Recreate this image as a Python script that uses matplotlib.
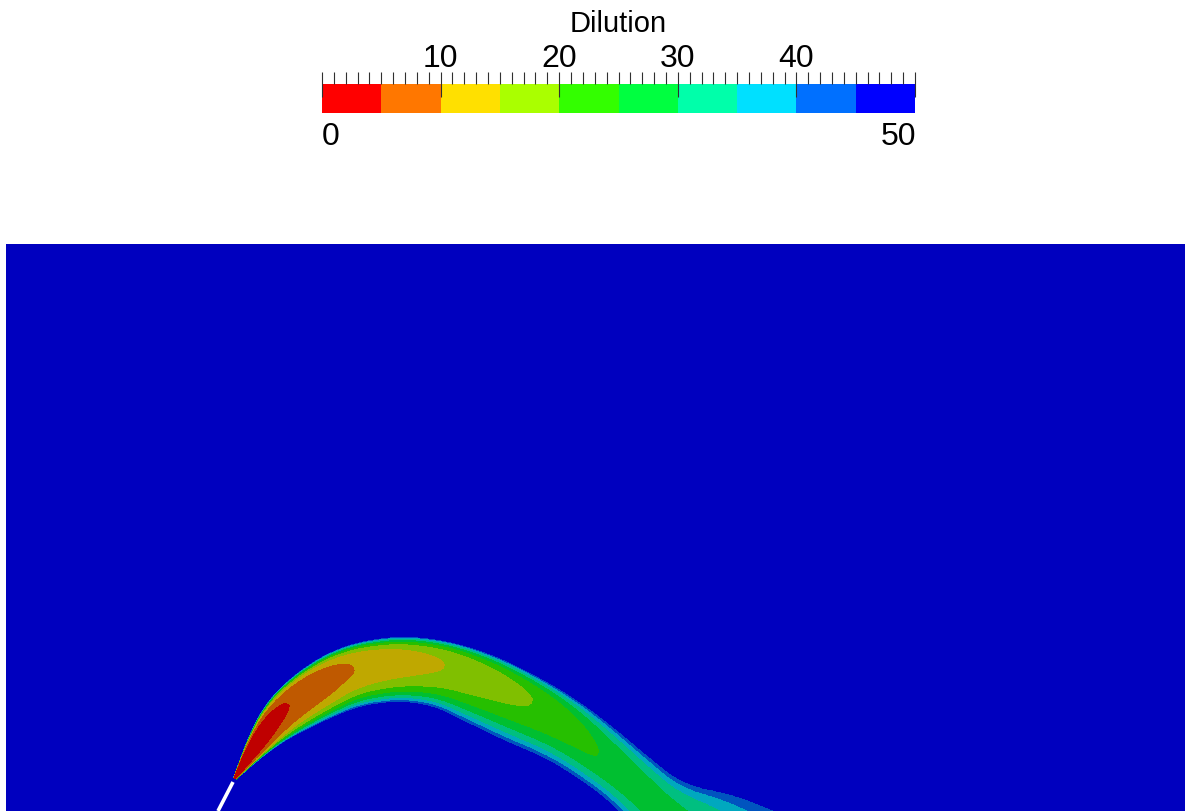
import numpy as np
import matplotlib
matplotlib.use('Agg')
import matplotlib.pyplot as plt
from matplotlib.colors import ListedColormap, BoundaryNorm, to_rgb

# ---------------- data ----------------
levels = [0, 5, 10, 15, 20, 25, 30, 35, 40, 45, 50]
bin_colors = ['#FF0000', '#FF7700', '#FFE000', '#AAFF00', '#33FF00',
              '#00FF40', '#00FFAA', '#00E0FF', '#0070FF', '#0000FF']
major_ticks = [0, 10, 20, 30, 40, 50]
top_labels = ['', '10', '20', '30', '40', '']
title = 'Dilution'

# plume centreline (image pixel coordinates), centreline dilution,
# half-widths (to the 45 contour) on upper / lower side, profile exponents
cl_x = [234, 256, 280, 315, 352, 400, 445, 490, 533, 565, 595, 628, 660, 690, 720]
cl_y = [780, 742, 712, 687, 670, 664, 667, 683, 705, 728, 755, 783, 812, 840, 868]
cl_dil = [0.5, 1.5, 4.5, 6.5, 10.0, 12.5, 15.0, 17.5, 20.0, 22.5, 25.0, 26.5, 27.5, 28.5, 29.5]
w_up = [2, 10, 18, 23, 26, 28, 26, 27, 27, 30, 33, 33, 36, 62, 78]
w_lo = [3, 18, 30, 36, 38, 38, 42, 47, 46, 38, 30, 27, 32, 38, 40]
p_up = [3.0, 3.0, 3.2, 3.3, 3.3, 3.3, 3.3, 3.3, 3.2, 3.0, 2.8, 2.6, 2.3, 2.0, 2.0]
p_lo = [2.0, 2.0, 2.0, 2.0, 2.0, 2.0, 2.0, 2.0, 2.0, 2.0, 2.0, 2.0, 2.0, 2.0, 2.0]

nozzle_x = [218, 233]
nozzle_y = [812, 783]

# ---------------- figure ----------------
W, H, DPI = 1187, 812, 100
fig = plt.figure(figsize=(W / DPI, H / DPI), dpi=DPI)
fig.patch.set_facecolor('white')
plt.rcParams['font.family'] = ['Liberation Sans', 'DejaVu Sans']

shade = 0.75
field_colors = [tuple(shade * c for c in to_rgb(col)) for col in bin_colors]

# field axes (pixel coordinates of the image)
x0, x1, y0, y1 = 6, 1185, 245, 812
ax = fig.add_axes([x0 / W, 1 - y1 / H, (x1 - x0) / W, (y1 - y0) / H])

# dense smoothed centreline
cx = np.asarray(cl_x, float)
cy = np.asarray(cl_y, float)
seg = np.hypot(np.diff(cx), np.diff(cy))
s_ctrl = np.concatenate([[0], np.cumsum(seg)])
t = np.linspace(0, s_ctrl[-1], 800)
k = 57
ker = np.ones(k) / k
def smooth(a):
    pad = k // 2
    left = 2 * a[0] - a[1:pad + 1][::-1]
    right = 2 * a[-1] - a[-pad - 1:-1][::-1]
    return np.convolve(np.concatenate([left, a, right]), ker, mode='valid')
sx = smooth(np.interp(t, s_ctrl, cx))
sy = smooth(np.interp(t, s_ctrl, cy))
tx = np.gradient(sx)
ty = np.gradient(sy)
tn = np.hypot(tx, ty)
tx /= tn
ty /= tn

Dc_s = np.maximum(smooth(np.interp(t, s_ctrl, cl_dil)), 0.3)
wu_s = np.maximum(smooth(np.interp(t, s_ctrl, w_up)), 1.5)
wl_s = np.maximum(smooth(np.interp(t, s_ctrl, w_lo)), 1.5)
pu_s = smooth(np.interp(t, s_ctrl, p_up))
pl_s = smooth(np.interp(t, s_ctrl, p_lo))

gx = np.arange(x0, x1 + 1, 1.0)
gy = np.arange(y0, y1 + 1, 1.0)
D = np.full((gy.size, gx.size), 49.0)

bx = (gx >= 190) & (gx <= 900)
by = gy >= 590
xs = gx[bx]
iy_idx = np.where(by)[0]
ix0 = np.where(bx)[0][0]
for r0 in range(0, iy_idx.size, 12):
    rows = iy_idx[r0:r0 + 12]
    PX, PY = np.meshgrid(xs, gy[rows])
    px = PX.ravel()
    py = PY.ravel()
    d2 = (px[:, None] - sx[None, :]) ** 2 + (py[:, None] - sy[None, :]) ** 2
    j = np.argmin(d2, axis=1)
    vx = px - sx[j]
    vy = py - sy[j]
    along = vx * tx[j] + vy * ty[j]
    nrm = vx * ty[j] - vy * tx[j]          # >0 : upper side
    up = nrm > 0
    w = np.where(up, wu_s[j], wl_s[j])
    pp = np.where(up, pu_s[j], pl_s[j])
    dc = Dc_s[j]
    r = np.abs(nrm) / w
    val = dc * (45.0 / dc) ** np.minimum(r ** pp, 5)
    val = np.where((j == 0) & (along < 0), 49.0, val)
    val = np.minimum(val, 49.0)
    D[rows[0]:rows[-1] + 1, ix0:ix0 + xs.size] = val.reshape(PX.shape)

ax.contourf(gx, gy, D, levels=levels, colors=field_colors, antialiased=False)
ax.plot(nozzle_x, nozzle_y, color='white', lw=2.6, solid_capstyle='butt')
ax.set_xlim(x0, x1)
ax.set_ylim(y1, y0)
ax.axis('off')

# ---------------- colour bar ----------------
cb_l, cb_r, cb_t, cb_b = 322, 915, 85, 114
cax = fig.add_axes([cb_l / W, 1 - cb_b / H, (cb_r - cb_l) / W, (cb_b - cb_t) / H])
cmap = ListedColormap(bin_colors)
norm = BoundaryNorm(levels, cmap.N)
mids = [(a + b) / 2 for a, b in zip(levels[:-1], levels[1:])]
cax.pcolormesh(levels, [0, 1], np.array([mids]), cmap=cmap, norm=norm)
cax.set_xlim(0, 50)
cax.set_ylim(0, 1)
for sp in cax.spines.values():
    sp.set_visible(False)
cax.set_yticks([])
cax.xaxis.tick_top()
cax.set_xticks(major_ticks)
cax.set_xticklabels(top_labels)
cax.set_xticks(np.arange(0, 51, 1), minor=True)
cax.tick_params(axis='x', which='major', direction='inout', length=18, width=0.8,
                color='#303030', labelsize=23, pad=-1.0)
cax.tick_params(axis='x', which='minor', direction='out', length=8.6, width=0.8,
                color='#303030')
cax.tick_params(axis='x', which='both', bottom=False, labelbottom=False)

fig.text(322 / W, 1 - 122 / H, '0', ha='left', va='top', fontsize=23)
fig.text(916 / W, 1 - 122 / H, '50', ha='right', va='top', fontsize=23)
fig.text(618 / W, 1 - 10 / H, title, ha='center', va='top', fontsize=21)

fig.savefig('out.png', dpi=DPI)
